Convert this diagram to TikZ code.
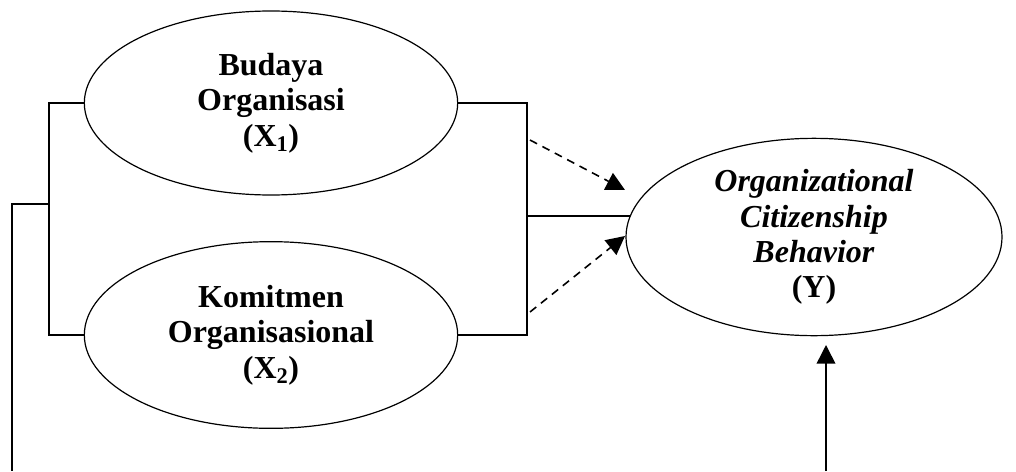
\documentclass[tikz,border=0pt]{standalone}
\usepackage{fontspec}
\setmainfont{Liberation Serif}
\usetikzlibrary{arrows.meta, shapes.geometric}

\tikzset{
	var/.style={draw, ellipse, line width=0.9pt, align=center, font=\bfseries\fontsize{24}{26.5}\selectfont, inner sep=0pt},
	line/.style={line width=1.2pt},
	tip/.style={-{Triangle[width=14pt,length=14pt]}},
}

\begin{document}
\begin{tikzpicture}[x=0.75pt, y=-0.75pt]
				\useasboundingbox (0, 0) rectangle (1016, 471);
				\node [var, minimum width=280pt, minimum height=138pt] (x1) at (271, 103) {Budaya\\Organisasi\\(X\textsubscript{1})};
				\node [var, minimum width=280pt, minimum height=140pt] (x2) at (271, 335) {Komitmen\\Organisasional\\(X\textsubscript{2})};
				\node [var, minimum width=282pt, minimum height=148pt] (y) at (814, 237) {\textit{Organizational}\\\textit{Citizenship}\\\textit{Behavior}\\(Y)};
				\coordinate (lt) at (49, 103);
				\coordinate (lb) at (49, 335);
				\coordinate (lm) at (49, 204);
				\coordinate (ol) at (12, 471);
				\coordinate (rt) at (527, 103);
				\coordinate (rb) at (527, 335);
				\coordinate (rm) at (527, 216);
				\coordinate (da) at (530, 140);
				\coordinate (db) at (530, 312);
				\coordinate (ea) at (625, 190);
				\coordinate (eb) at (625, 236);
				\coordinate (up) at (826, 471);
				\draw [line] (x1.west) -- (lt) -- (lb) -- (x2.west);
				\draw [line] (lm) -- (lm -| ol) -- (ol);
				\draw [line] (x1.east) -- (rt) -- (rb) -- (x2.east);
				\draw [line] (rm) -- (rm -| y.173.5);
				\draw [line, tip, dash pattern=on 6pt off 4.5pt] (da) -- (ea);
				\draw [line, tip, dash pattern=on 6pt off 4.5pt] (db) -- (eb);
				\draw [line, tip] (up) -- (826, 345);
			\end{tikzpicture}
\end{document}
